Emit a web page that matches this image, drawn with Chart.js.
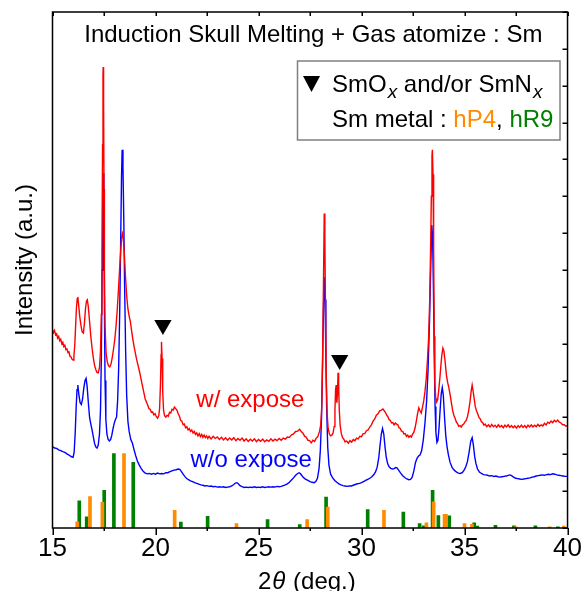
<!DOCTYPE html>
<html><head><meta charset="utf-8">
<script src="https://cdn.jsdelivr.net/npm/chart.js@4.4.1/dist/chart.umd.min.js"></script>
<style>html,body{margin:0;padding:0;background:#fff;}#wrap{width:582px;height:591px;}</style>
</head><body><div id="wrap"><canvas id="c" width="582" height="591"></canvas></div>
<script>
const chartTitle = 'Induction Skull Melting + Gas atomize : Sm';
const xLabelParts = ['2', 'θ', ' (deg.)'];
const yLabel = 'Intensity (a.u.)';
const xRange = [15, 40];
const yRange = [0, 14];
const xMajorStep = 5;
const xMinorStep = 2.5;
const yTickStep = 1;

// w/ expose (red)
const redPattern = [[15.00,5.37],[15.05,5.30],[15.10,5.36],[15.15,5.24],[15.20,5.27],[15.25,5.15],[15.30,5.20],[15.35,5.08],[15.40,5.12],[15.45,5.00],[15.50,5.04],[15.55,4.92],[15.60,4.96],[15.65,4.84],[15.70,4.86],[15.75,4.76],[15.80,4.78],[15.85,4.66],[15.90,4.64],[15.95,4.58],[16.00,4.56],[16.04,4.68],[16.08,4.95],[16.12,5.45],[16.16,5.95],[16.20,6.22],[16.23,6.27],[16.27,6.05],[16.32,5.75],[16.38,5.50],[16.44,5.32],[16.50,5.29],[16.55,5.55],[16.60,5.95],[16.65,6.16],[16.69,6.19],[16.74,6.00],[16.80,5.60],[16.86,5.20],[16.92,4.88],[16.98,4.62],[17.04,4.42],[17.10,4.30],[17.16,4.22],[17.22,4.21],[17.28,4.35],[17.33,4.80],[17.37,5.80],[17.40,7.50],[17.43,10.40],[17.45,12.30],[17.46,12.51],[17.48,11.60],[17.50,9.20],[17.52,7.00],[17.55,5.50],[17.60,4.75],[17.66,4.50],[17.72,4.40],[17.78,4.37],[17.84,4.45],[17.90,4.62],[17.96,4.85],[18.02,5.10],[18.08,5.45],[18.14,5.90],[18.20,6.45],[18.26,7.05],[18.32,7.60],[18.37,7.95],[18.40,8.00],[18.44,7.85],[18.49,7.40],[18.54,6.85],[18.60,6.30],[18.66,5.95],[18.72,5.75],[18.78,5.60],[18.84,5.35],[18.90,5.12],[18.96,4.92],[19.02,4.75],[19.08,4.58],[19.14,4.44],[19.20,4.30],[19.26,4.15],[19.32,3.98],[19.38,3.82],[19.44,3.66],[19.50,3.50],[19.56,3.42],[19.62,3.34],[19.68,3.24],[19.74,3.22],[19.80,3.14],[19.86,3.15],[19.92,3.07],[19.98,3.10],[20.04,3.02],[20.10,2.98],[20.16,3.05],[20.20,3.25],[20.24,3.90],[20.27,4.70],[20.29,5.05],[20.32,4.60],[20.35,3.70],[20.39,3.20],[20.44,3.05],[20.50,3.01],[20.56,3.06],[20.62,3.03],[20.68,3.14],[20.74,3.12],[20.80,3.22],[20.86,3.20],[20.92,3.28],[20.98,3.24],[21.04,3.20],[21.10,3.10],[21.16,3.04],[21.22,2.92],[21.28,2.90],[21.34,2.80],[21.40,2.82],[21.46,2.72],[21.52,2.75],[21.58,2.66],[21.64,2.70],[21.70,2.62],[21.76,2.66],[21.82,2.58],[21.88,2.62],[21.94,2.54],[22.00,2.58],[22.06,2.50],[22.12,2.56],[22.18,2.48],[22.24,2.54],[22.30,2.46],[22.36,2.52],[22.42,2.45],[22.48,2.50],[22.54,2.43],[22.60,2.49],[22.70,2.42],[22.80,2.49],[22.90,2.43],[23.00,2.47],[23.10,2.40],[23.20,2.46],[23.30,2.39],[23.40,2.45],[23.50,2.38],[23.60,2.44],[23.70,2.39],[23.80,2.45],[23.90,2.37],[24.00,2.43],[24.10,2.38],[24.20,2.44],[24.30,2.36],[24.40,2.42],[24.50,2.35],[24.60,2.41],[24.70,2.36],[24.80,2.42],[24.90,2.34],[25.00,2.40],[25.10,2.35],[25.20,2.41],[25.30,2.34],[25.40,2.39],[25.50,2.35],[25.60,2.42],[25.70,2.36],[25.80,2.41],[25.90,2.37],[26.00,2.43],[26.10,2.38],[26.20,2.44],[26.30,2.41],[26.40,2.47],[26.50,2.46],[26.60,2.53],[26.70,2.55],[26.80,2.62],[26.90,2.63],[27.00,2.68],[27.08,2.61],[27.16,2.57],[27.24,2.49],[27.32,2.46],[27.40,2.38],[27.48,2.37],[27.56,2.31],[27.64,2.38],[27.72,2.35],[27.80,2.44],[27.88,2.48],[27.96,2.62],[28.02,2.80],[28.07,3.30],[28.11,4.60],[28.15,6.50],[28.19,8.53],[28.22,7.90],[28.25,6.00],[28.29,4.10],[28.33,3.10],[28.38,2.70],[28.44,2.55],[28.50,2.50],[28.56,2.52],[28.62,2.58],[28.67,2.75],[28.71,3.20],[28.74,3.75],[28.77,3.88],[28.80,3.40],[28.83,3.60],[28.86,4.21],[28.89,3.90],[28.92,3.20],[28.96,2.80],[29.02,2.56],[29.08,2.45],[29.14,2.41],[29.20,2.34],[29.28,2.36],[29.36,2.30],[29.44,2.37],[29.52,2.33],[29.60,2.40],[29.68,2.37],[29.76,2.44],[29.84,2.42],[29.92,2.49],[30.00,2.48],[30.08,2.56],[30.16,2.56],[30.24,2.64],[30.32,2.66],[30.40,2.74],[30.48,2.80],[30.56,2.90],[30.64,2.96],[30.72,3.06],[30.80,3.10],[30.88,3.18],[30.96,3.20],[31.04,3.23],[31.10,3.18],[31.16,3.14],[31.22,3.06],[31.28,3.02],[31.34,2.94],[31.40,2.92],[31.46,2.85],[31.52,2.86],[31.58,2.80],[31.64,2.85],[31.70,2.82],[31.76,2.80],[31.82,2.72],[31.88,2.70],[31.94,2.63],[32.00,2.62],[32.06,2.55],[32.12,2.56],[32.18,2.49],[32.24,2.52],[32.30,2.46],[32.36,2.50],[32.42,2.47],[32.48,2.55],[32.54,2.60],[32.60,2.72],[32.66,2.90],[32.72,3.10],[32.78,3.26],[32.84,3.18],[32.90,3.12],[32.96,3.28],[33.02,3.45],[33.08,3.70],[33.14,4.05],[33.20,4.55],[33.26,5.20],[33.31,6.20],[33.35,7.50],[33.39,9.00],[33.42,10.10],[33.44,10.26],[33.47,9.60],[33.50,7.60],[33.53,5.20],[33.56,3.90],[33.60,3.55],[33.65,3.42],[33.70,3.50],[33.75,3.75],[33.80,4.05],[33.85,4.40],[33.90,4.70],[33.95,4.88],[34.00,4.80],[34.06,4.50],[34.12,4.15],[34.18,3.95],[34.24,3.80],[34.30,3.62],[34.36,3.40],[34.42,3.20],[34.48,3.06],[34.54,2.98],[34.60,2.88],[34.66,2.83],[34.72,2.76],[34.78,2.78],[34.84,2.74],[34.90,2.80],[34.96,2.82],[35.02,2.88],[35.08,2.92],[35.14,3.02],[35.20,3.18],[35.26,3.40],[35.32,3.70],[35.37,3.88],[35.42,3.70],[35.47,3.50],[35.52,3.30],[35.58,3.18],[35.64,3.10],[35.70,3.00],[35.76,2.96],[35.82,2.88],[35.88,2.86],[35.94,2.79],[36.00,2.82],[36.08,2.75],[36.16,2.80],[36.24,2.74],[36.32,2.81],[36.40,2.75],[36.48,2.79],[36.56,2.73],[36.64,2.80],[36.72,2.74],[36.80,2.78],[36.88,2.72],[36.96,2.79],[37.04,2.74],[37.12,2.80],[37.20,2.73],[37.28,2.78],[37.36,2.72],[37.44,2.77],[37.52,2.71],[37.60,2.78],[37.68,2.73],[37.76,2.79],[37.84,2.73],[37.92,2.78],[38.00,2.72],[38.08,2.79],[38.16,2.74],[38.24,2.80],[38.32,2.74],[38.40,2.79],[38.48,2.75],[38.56,2.81],[38.64,2.76],[38.72,2.80],[38.80,2.77],[38.88,2.84],[38.96,2.80],[39.04,2.87],[39.12,2.84],[39.20,2.90],[39.28,2.86],[39.36,2.92],[39.44,2.88],[39.52,2.93],[39.60,2.87],[39.68,2.85],[39.76,2.80],[39.84,2.80],[39.92,2.76],[40.00,2.78]];

// w/o expose (blue)
const bluePattern = [[15.00,2.21],[15.10,2.17],[15.20,2.16],[15.30,2.12],[15.40,2.10],[15.50,2.07],[15.60,2.05],[15.70,2.01],[15.80,1.98],[15.90,1.94],[16.00,1.92],[16.05,2.05],[16.10,2.55],[16.15,3.30],[16.19,3.75],[16.23,3.88],[16.28,3.62],[16.34,3.40],[16.40,3.35],[16.46,3.50],[16.52,3.80],[16.58,4.00],[16.63,4.06],[16.68,3.85],[16.74,3.40],[16.80,3.00],[16.86,2.82],[16.92,2.66],[16.98,2.48],[17.04,2.30],[17.10,2.20],[17.16,2.17],[17.22,2.25],[17.28,2.55],[17.33,3.20],[17.37,4.60],[17.41,7.00],[17.44,9.00],[17.46,9.63],[17.49,8.60],[17.52,6.00],[17.55,4.00],[17.59,2.95],[17.64,2.55],[17.70,2.40],[17.76,2.36],[17.82,2.40],[17.88,2.52],[17.94,2.70],[18.00,2.85],[18.06,2.95],[18.11,3.01],[18.16,3.45],[18.21,4.30],[18.26,5.80],[18.31,7.80],[18.35,9.50],[18.38,10.26],[18.42,9.80],[18.46,8.40],[18.50,6.60],[18.55,4.80],[18.60,3.60],[18.66,2.90],[18.72,2.62],[18.80,2.40],[18.88,2.30],[18.96,2.12],[19.04,1.96],[19.12,1.82],[19.20,1.72],[19.30,1.62],[19.40,1.54],[19.50,1.49],[19.60,1.47],[19.70,1.48],[19.80,1.46],[19.90,1.48],[20.00,1.46],[20.10,1.49],[20.20,1.47],[20.30,1.48],[20.40,1.47],[20.50,1.50],[20.60,1.50],[20.70,1.53],[20.80,1.55],[20.90,1.57],[21.00,1.58],[21.10,1.60],[21.18,1.59],[21.26,1.53],[21.34,1.46],[21.42,1.40],[21.50,1.35],[21.60,1.31],[21.70,1.28],[21.80,1.26],[21.90,1.23],[22.00,1.21],[22.10,1.19],[22.20,1.17],[22.30,1.16],[22.40,1.14],[22.50,1.15],[22.60,1.13],[22.70,1.14],[22.80,1.12],[22.90,1.13],[23.00,1.11],[23.10,1.12],[23.20,1.11],[23.30,1.12],[23.40,1.10],[23.50,1.11],[23.60,1.12],[23.70,1.14],[23.80,1.18],[23.88,1.22],[23.95,1.23],[24.02,1.20],[24.10,1.15],[24.20,1.12],[24.30,1.10],[24.40,1.11],[24.50,1.10],[24.60,1.11],[24.70,1.10],[24.80,1.12],[24.90,1.10],[25.00,1.11],[25.10,1.10],[25.20,1.12],[25.30,1.10],[25.40,1.11],[25.50,1.12],[25.60,1.11],[25.70,1.12],[25.80,1.11],[25.90,1.13],[26.00,1.12],[26.10,1.13],[26.20,1.15],[26.30,1.17],[26.40,1.20],[26.50,1.24],[26.60,1.30],[26.70,1.36],[26.80,1.43],[26.90,1.48],[26.97,1.50],[27.04,1.47],[27.12,1.41],[27.20,1.36],[27.30,1.32],[27.40,1.29],[27.50,1.26],[27.60,1.24],[27.70,1.23],[27.78,1.26],[27.86,1.35],[27.94,1.62],[28.00,2.10],[28.06,3.00],[28.11,4.50],[28.15,5.90],[28.19,6.81],[28.23,6.20],[28.27,4.60],[28.31,3.20],[28.36,2.20],[28.42,1.70],[28.50,1.46],[28.60,1.36],[28.70,1.29],[28.80,1.24],[28.90,1.20],[29.00,1.17],[29.10,1.15],[29.20,1.14],[29.30,1.13],[29.40,1.14],[29.50,1.14],[29.60,1.16],[29.70,1.18],[29.80,1.20],[29.90,1.21],[30.00,1.23],[30.10,1.26],[30.20,1.29],[30.30,1.32],[30.40,1.35],[30.50,1.39],[30.60,1.45],[30.68,1.52],[30.76,1.65],[30.84,1.92],[30.90,2.25],[30.96,2.55],[31.02,2.70],[31.08,2.55],[31.14,2.20],[31.20,1.92],[31.27,1.74],[31.34,1.66],[31.42,1.62],[31.50,1.60],[31.58,1.61],[31.66,1.64],[31.72,1.63],[31.80,1.57],[31.90,1.49],[32.00,1.42],[32.10,1.37],[32.20,1.33],[32.30,1.31],[32.38,1.32],[32.46,1.38],[32.54,1.55],[32.62,1.78],[32.70,1.90],[32.78,1.96],[32.84,1.98],[32.92,2.10],[33.00,2.40],[33.08,2.85],[33.16,3.45],[33.23,4.30],[33.30,5.60],[33.36,7.10],[33.41,8.22],[33.45,7.90],[33.49,6.50],[33.53,4.70],[33.57,3.30],[33.61,2.60],[33.66,2.32],[33.71,2.38],[33.76,2.70],[33.82,3.25],[33.87,3.65],[33.92,3.81],[33.97,3.60],[34.03,3.00],[34.09,2.50],[34.15,2.21],[34.22,1.98],[34.30,1.78],[34.40,1.64],[34.50,1.57],[34.60,1.52],[34.70,1.49],[34.80,1.48],[34.90,1.51],[34.98,1.57],[35.06,1.66],[35.14,1.80],[35.22,2.05],[35.30,2.35],[35.37,2.45],[35.43,2.25],[35.49,1.95],[35.55,1.76],[35.63,1.60],[35.72,1.52],[35.82,1.48],[35.92,1.45],[36.02,1.44],[36.12,1.43],[36.22,1.41],[36.32,1.42],[36.42,1.40],[36.52,1.41],[36.62,1.39],[36.72,1.38],[36.82,1.39],[36.92,1.40],[37.02,1.41],[37.12,1.43],[37.20,1.44],[37.28,1.42],[37.38,1.38],[37.48,1.35],[37.58,1.34],[37.68,1.33],[37.78,1.32],[37.88,1.33],[37.98,1.34],[38.08,1.35],[38.18,1.36],[38.28,1.38],[38.38,1.39],[38.48,1.41],[38.58,1.42],[38.68,1.43],[38.78,1.44],[38.88,1.43],[38.98,1.45],[39.08,1.46],[39.18,1.45],[39.28,1.47],[39.38,1.46],[39.48,1.44],[39.58,1.43],[39.68,1.42],[39.78,1.41],[39.88,1.40],[40.00,1.40]];

// Reference sticks: Sm metal hP4 (orange) and hR9 (green)
const hP4 = [[16.20,0.17],[16.82,0.85],[17.42,0.70],[18.47,2.02],[20.93,0.48],[23.93,0.12],[27.36,0.23],[28.36,0.57],[31.09,0.48],[33.15,0.14],[33.50,0.71],[34.03,0.37],[34.10,0.37],[35.00,0.12],[35.36,0.10],[37.48,0.03],[39.13,0.03],[39.82,0.05]];
const hR9 = [[16.30,0.74],[16.66,0.30],[17.51,1.02],[17.98,2.02],[18.92,1.78],[21.23,0.16],[22.53,0.32],[25.44,0.23],[27.00,0.09],[28.28,0.84],[30.30,0.50],[32.03,0.43],[32.82,0.12],[33.02,0.06],[33.45,1.02],[33.73,0.34],[34.26,0.33],[35.47,0.14],[35.62,0.05],[36.50,0.07],[37.40,0.06],[38.44,0.06],[39.53,0.03]];

// SmOx and/or SmNx peak markers (triangles)
const oxideMarkers = [[20.36,5.51],[28.94,4.56]];

const FONT = '"Liberation Sans", Arial, Helvetica, sans-serif';
const COLORS = { red:'#ff0000', blue:'#0000ff', orange:'#ff8c00', green:'#008000' };

const toXY = arr => arr.map(([x, y]) => ({x, y}));

const decorPlugin = {
  id: 'decor',
  afterDraw(chart) {
    const {ctx, chartArea: a, scales: {x, y}} = chart;
    ctx.save();
    // frame
    ctx.strokeStyle = '#000';
    ctx.lineWidth = 1.5;
    ctx.strokeRect(a.left, a.top, a.right - a.left, a.bottom - a.top);
    ctx.beginPath();
    for (let v = xRange[0]; v <= xRange[1] + 1e-9; v += xMinorStep) {
      const px = Math.round(x.getPixelForValue(v)) + 0.25;
      const major = Math.abs(v / xMajorStep - Math.round(v / xMajorStep)) < 1e-6;
      ctx.moveTo(px, a.bottom);
      ctx.lineTo(px, a.bottom + (major ? 7 : 3));
      ctx.moveTo(px, a.top);
      ctx.lineTo(px, a.top + 4);
    }
    for (let v = yRange[0]; v <= yRange[1] + 1e-9; v += yTickStep) {
      const py = Math.round(y.getPixelForValue(v)) + 0.25;
      ctx.moveTo(a.right, py);
      ctx.lineTo(a.right - 5, py);
    }
    ctx.stroke();

    ctx.fillStyle = '#000';
    ctx.textBaseline = 'alphabetic';
    // chart title
    ctx.font = '24px ' + FONT;
    ctx.textAlign = 'center';
    ctx.fillText(chartTitle, x.getPixelForValue(27.66), y.getPixelForValue(13.18));

    // curve labels
    ctx.textAlign = 'left';
    ctx.fillStyle = COLORS.red;
    ctx.fillText('w/ expose', x.getPixelForValue(21.98), y.getPixelForValue(3.27));
    ctx.fillStyle = COLORS.blue;
    ctx.fillText('w/o expose', x.getPixelForValue(21.70), y.getPixelForValue(1.66));

    // legend box
    ctx.fillStyle = '#fff';
    ctx.fillRect(297.5, 61, 262.5, 79);
    ctx.strokeStyle = '#808080';
    ctx.lineWidth = 1.5;
    ctx.strokeRect(297.5, 61, 262.5, 79);
    ctx.fillStyle = '#000';
    ctx.beginPath();
    ctx.moveTo(303, 76); ctx.lineTo(320, 76); ctx.lineTo(311.5, 92); ctx.closePath();
    ctx.fill();
    let cx = 332;
    ctx.font = '24px ' + FONT;
    ctx.fillText('SmO', cx, 91.5); cx += ctx.measureText('SmO').width + 1;
    ctx.font = 'italic 19px ' + FONT;
    ctx.fillText('x', cx, 98); cx += ctx.measureText('x').width;
    ctx.font = '24px ' + FONT;
    ctx.fillText(' and/or SmN', cx, 91.5); cx += ctx.measureText(' and/or SmN').width + 1;
    ctx.font = 'italic 19px ' + FONT;
    ctx.fillText('x', cx, 98);
    ctx.font = '24px ' + FONT;
    cx = 332;
    const parts = [['Sm metal : ', '#000'], ['hP4', COLORS.orange], [', ', '#000'], ['hR9', COLORS.green]];
    for (const [t, c] of parts) { ctx.fillStyle = c; ctx.fillText(t, cx, 126.5); cx += ctx.measureText(t).width; }

    // axis titles
    ctx.fillStyle = '#000';
    ctx.font = '24px ' + FONT;
    let tx = 258;
    ctx.fillText(xLabelParts[0], tx, 589); tx += ctx.measureText(xLabelParts[0]).width + 1;
    ctx.font = 'italic 24px ' + FONT;
    ctx.fillText(xLabelParts[1], tx, 589); tx += ctx.measureText(xLabelParts[1]).width + 1;
    ctx.font = '24px ' + FONT;
    ctx.fillText(xLabelParts[2], tx, 589);

    ctx.save();
    ctx.translate(31.5, 260);
    ctx.rotate(-Math.PI / 2);
    ctx.textAlign = 'center';
    ctx.fillText(yLabel, 0, 0);
    ctx.restore();
    ctx.restore();
  }
};

new Chart(document.getElementById('c'), {
  type: 'line',
  data: {
    datasets: [
      { label: 'SmOx and/or SmNx', data: toXY(oxideMarkers), showLine: false, pointStyle: 'triangle', rotation: 180, pointRadius: 10, pointBackgroundColor: '#000', pointBorderColor: '#000', pointBorderWidth: 0 },
      { label: 'w/ expose', data: toXY(redPattern), borderColor: COLORS.red, borderWidth: 1.4, pointRadius: 0, tension: 0, fill: false },
      { label: 'w/o expose', data: toXY(bluePattern), borderColor: COLORS.blue, borderWidth: 1.4, pointRadius: 0, tension: 0, fill: false },
      { type: 'bar', label: 'hP4', data: toXY(hP4), backgroundColor: COLORS.orange, barThickness: 3, grouped: false },
      { type: 'bar', label: 'hR9', data: toXY(hR9), backgroundColor: COLORS.green, barThickness: 3, grouped: false }
    ]
  },
  options: {
    responsive: false,
    animation: false,
    devicePixelRatio: 1,
    layout: { padding: { left: 52.5, right: 14, top: 12, bottom: 21 } },
    plugins: { legend: { display: false }, tooltip: { enabled: false } },
    scales: {
      x: {
        type: 'linear', min: xRange[0], max: xRange[1], offset: false,
        ticks: { stepSize: xMajorStep, font: { family: FONT, size: 26, lineHeight: 1.615 }, color: '#000', padding: 0, maxRotation: 0, autoSkip: false },
        grid: { display: false, drawTicks: false, offset: false },
        border: { display: false }
      },
      y: { type: 'linear', min: yRange[0], max: yRange[1], display: false }
    }
  },
  plugins: [decorPlugin]
});
</script>
</body></html>
